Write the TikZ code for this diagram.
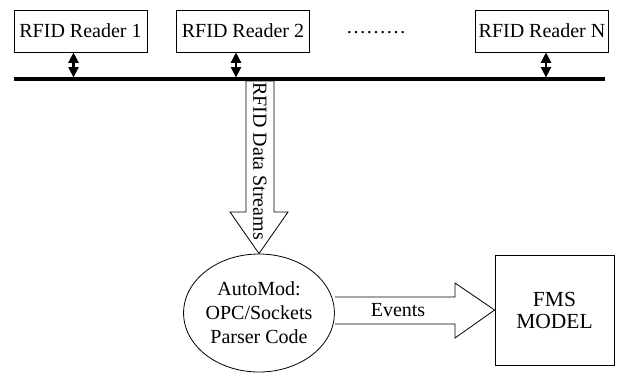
\documentclass[tikz,border=0pt]{standalone}
\usepackage{fontspec}
\setmainfont{Liberation Serif}
\usetikzlibrary{arrows.meta,shapes.geometric,calc}

\begin{document}
\begin{tikzpicture}[
  x=1pt, y=-1pt,
  reader/.style={rectangle, draw, line width=0.8pt, minimum width=133pt, minimum height=42pt, inner sep=0pt},
  link/.style={{Triangle[width=10pt,length=10.5pt]}-{Triangle[width=10pt,length=10.5pt]}, line width=2.4pt, shorten >=1.5pt},
  fat/.style={draw, line width=0.8pt, fill=white},
  every node/.style={font=\fontsize{20}{24}\selectfont}
]
\useasboundingbox (0,0) rectangle (621,376);

% Readers
\node[reader] (R1) at (80.5,31) {RFID Reader 1};
\node[reader] (R2) at (243,31) {RFID Reader 2};
\node[reader] (RN) at (542,31) {RFID Reader N};
\node (dots) at (376,33) {………};

% Bus
\coordinate (busL) at (14,79);
\coordinate (busR) at (605,79);
\draw[line width=4pt] (busL) -- (busR);

\foreach \r/\dx in {R1/-7, R2/-7, RN/4}
  \draw[link] ([xshift=\dx pt]\r.south) -- ([xshift=\dx pt]\r.south |- busL);

% Parser and model
\node[ellipse, draw, line width=0.8pt, minimum width=148pt, minimum height=118pt, inner sep=0pt, align=center] (parser) at (259,313) {AutoMod:\\OPC/Sockets\\Parser Code};
\node[rectangle, draw, line width=0.8pt, minimum width=119pt, minimum height=110pt, align=center,
  font=\fontsize{21.5}{22}\selectfont] (fms) at (554.5,310) {FMS\\MODEL};

% Data stream arrow
\draw[fat] (246,81) -- (246,212) -- (230,212) -- (parser.north) -- (288,212) -- (274,212) -- (274,81) -- cycle;
\node[rotate=-90] (streams) at (260,161) {RFID Data Streams};

% Events arrow
\draw[fat] (parser.east |- 0,297) -- (455,297) -- (455,283) -- (fms.west) -- (455,338) -- (455,324) -- (parser.east |- 0,324);
\node (events) at (398,310) {Events};

\end{tikzpicture}
\end{document}
